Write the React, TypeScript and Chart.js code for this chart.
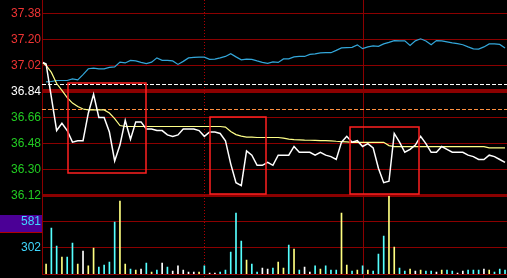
import React, { useEffect, useRef } from 'react';
import { Chart, registerables } from 'chart.js';

Chart.register(...registerables);

// ---------- axis values ----------
const priceTicks = [36.12, 36.3, 36.48, 36.66, 36.84, 37.02, 37.2, 37.38];
const previousClose = 36.84;
const priceFloor = 36.12;
const priceCeiling = 37.472;
const volumeFloor = 23;
const volumeCeiling = 860;
const volumeTicks = [302, 581];
const markedVolumeTick = 581;
const slotMin = -0.777;
const slotMax = 87.375;

// ---------- call auction point ----------
const auctionSlot = -0.6;
const auctionPrice = 37.04;
const auctionAverage = 37.036;

// ---------- series (one value per time slot 0..87) ----------
const prices = [
  37.03, 36.8, 36.57, 36.62, 36.57, 36.49, 36.5, 36.5, 36.69, 36.82,
  36.66, 36.66, 36.56, 36.36, 36.47, 36.64, 36.51, 36.63, 36.63, 36.58,
  36.58, 36.57, 36.57, 36.54, 36.53, 36.54, 36.58, 36.58, 36.58, 36.57,
  36.53, 36.56, 36.56, 36.55, 36.5, 36.34, 36.21, 36.19, 36.43, 36.4,
  36.33, 36.33, 36.35, 36.33, 36.4, 36.4, 36.4, 36.46, 36.42, 36.42,
  36.42, 36.4, 36.42, 36.4, 36.39, 36.37, 36.49, 36.53, 36.49, 36.5,
  36.46, 36.48, 36.45, 36.31, 36.21, 36.22, 36.55, 36.49, 36.42, 36.44,
  36.47, 36.53, 36.48, 36.42, 36.42, 36.46, 36.44, 36.42, 36.42, 36.42,
  36.4, 36.39, 36.37, 36.37, 36.4, 36.39, 36.37, 36.35,
];

const averagePrices = [
  37.02, 36.972, 36.895, 36.847, 36.798, 36.76, 36.736, 36.719, 36.713, 36.713,
  36.713, 36.713, 36.691, 36.653, 36.605, 36.598, 36.598, 36.598, 36.598, 36.598,
  36.598, 36.598, 36.598, 36.598, 36.598, 36.598, 36.598, 36.598, 36.598, 36.598,
  36.598, 36.598, 36.598, 36.598, 36.594, 36.563, 36.542, 36.532, 36.525, 36.524,
  36.522, 36.522, 36.522, 36.522, 36.522, 36.518, 36.511, 36.508, 36.506, 36.504,
  36.503, 36.502, 36.501, 36.501, 36.499, 36.496, 36.494, 36.492, 36.489, 36.489,
  36.489, 36.489, 36.489, 36.489, 36.489, 36.466, 36.459, 36.459, 36.459, 36.459,
  36.459, 36.459, 36.459, 36.459, 36.459, 36.459, 36.459, 36.459, 36.459, 36.459,
  36.459, 36.459, 36.459, 36.459, 36.45, 36.45, 36.45, 36.45,
];

const indexLine = [
  36.906, 36.909, 36.916, 36.916, 36.916, 36.927, 36.92, 36.956, 36.997, 37.001,
  36.996, 36.996, 37.006, 37.01, 37.043, 37.037, 37.055, 37.051, 37.041, 37.032,
  37.043, 37.072, 37.055, 37.055, 37.051, 37.027, 37.048, 37.072, 37.075, 37.077,
  37.077, 37.062, 37.064, 37.072, 37.082, 37.101, 37.079, 37.059, 37.064, 37.062,
  37.051, 37.041, 37.034, 37.044, 37.041, 37.065, 37.065, 37.079, 37.082, 37.082,
  37.096, 37.1, 37.107, 37.108, 37.108, 37.124, 37.141, 37.143, 37.145, 37.162,
  37.136, 37.148, 37.155, 37.152, 37.169, 37.179, 37.191, 37.189, 37.19, 37.158,
  37.19, 37.204, 37.189, 37.163, 37.192, 37.19, 37.183, 37.176, 37.17, 37.163,
  37.148, 37.134, 37.133, 37.148, 37.169, 37.169, 37.165, 37.141,
];

const volumes = [
  130, 515, 322, 205, 205, 354, 130, 269, 109, 301,
  98, 119, 151, 579, 803, 130, 76, 66, 76, 141,
  44, 66, 141, 98, 55, 109, 66, 44, 44, 44,
  109, 34, 34, 44, 66, 258, 675, 376, 173, 130,
  44, 87, 76, 87, 151, 87, 333, 290, 66, 98,
  44, 109, 76, 109, 66, 66, 675, 119, 55, 66,
  109, 66, 55, 237, 429, 857, 312, 87, 55, 76,
  55, 66, 55, 55, 44, 66, 66, 55, 34, 55,
  66, 66, 66, 76, 66, 44, 76, 66,
];

// u = up tick, d = down tick, f = unchanged
const volumeDirection = [
  'u', 'd', 'd', 'u', 'd', 'd', 'u', 'f', 'u', 'u',
  'd', 'd', 'd', 'd', 'u', 'u', 'd', 'u', 'f', 'd',
  'u', 'd', 'f', 'd', 'f', 'f', 'f', 'f', 'f', 'u',
  'd', 'f', 'f', 'd', 'd', 'd', 'd', 'd', 'u', 'd',
  'd', 'f', 'f', 'd', 'u', 'u', 'd', 'u', 'd', 'f',
  'f', 'd', 'u', 'd', 'd', 'd', 'u', 'u', 'd', 'u',
  'd', 'u', 'd', 'd', 'd', 'u', 'u', 'd', 'd', 'u',
  'f', 'u', 'd', 'd', 'f', 'u', 'd', 'd', 'f', 'f',
  'd', 'd', 'd', 'f', 'u', 'd', 'd', 'd',
];

// ---------- annotations ----------
const referencePrices = [36.89, 36.717];
const sessionMarks = [30, 60];
const boxStart = [4.2, 31.1, 57.7];
const boxEnd = [18.9, 41.7, 70.7];
const boxHigh = [36.897, 36.662, 36.593];
const boxLow = [36.275, 36.13, 36.13];

// ---------- styles ----------
const GRID = '#8b0000';
const RED_TXT = '#f03434';
const GREEN_TXT = '#22cc22';
const CYAN_TXT = '#40d8ff';
const FONT = { family: '"Liberation Sans", Arial, sans-serif', size: 12 };
const DIR_COLOR: Record<string, string> = { u: '#ffff80', d: '#55ffff', f: '#ffffff' };
const REF_COLORS = ['#ffffff', '#ff9040'];

const overlayPlugin = {
  id: 'overlay',
  beforeDraw(chart: any) {
    const { ctx, width, height } = chart;
    ctx.save();
    ctx.fillStyle = '#000000';
    ctx.fillRect(0, 0, width, height);
    const yv = chart.scales.yv;
    const py = Math.round(yv.getPixelForValue(markedVolumeTick));
    ctx.fillStyle = '#4b0096';
    ctx.fillRect(0, py - 7, Math.round(yv.right), 17);
    ctx.fillStyle = '#b00000';
    ctx.fillRect(0, py + 10, Math.round(yv.right), 1);
    ctx.restore();
  },
  beforeDatasetsDraw(chart: any) {
    const { ctx, chartArea: a, scales } = chart;
    const x = scales.x;
    const y = scales.y;
    ctx.save();
    ctx.fillStyle = GRID;
    ctx.fillRect(a.left, Math.round(a.bottom), a.right - a.left, 1);
    sessionMarks.forEach((m, i) => {
      const px = Math.round(x.getPixelForValue(m)) + 0.5;
      ctx.beginPath();
      ctx.lineWidth = 1;
      ctx.strokeStyle = i === 0 ? '#b00000' : GRID;
      ctx.setLineDash(i === 0 ? [1, 2] : []);
      ctx.moveTo(px, a.top);
      ctx.lineTo(px, chart.height);
      ctx.stroke();
    });
    referencePrices.forEach((v, i) => {
      const py = Math.round(y.getPixelForValue(v)) + 0.5;
      ctx.beginPath();
      ctx.lineWidth = 1;
      ctx.strokeStyle = REF_COLORS[i];
      ctx.setLineDash([4, 2]);
      ctx.moveTo(a.left, py);
      ctx.lineTo(a.right, py);
      ctx.stroke();
    });
    ctx.restore();
  },
  afterDatasetsDraw(chart: any) {
    const { ctx, scales } = chart;
    const x = scales.x;
    const y = scales.y;
    ctx.save();
    ctx.strokeStyle = '#ff2020';
    ctx.lineWidth = 1.5;
    boxStart.forEach((s, i) => {
      const x0 = Math.round(x.getPixelForValue(s));
      const x1 = Math.round(x.getPixelForValue(boxEnd[i]));
      const y0 = Math.round(y.getPixelForValue(boxHigh[i]));
      const y1 = Math.round(y.getPixelForValue(boxLow[i]));
      ctx.strokeRect(x0, y0, x1 - x0, y1 - y0);
    });
    ctx.restore();
  },
};

export default function App() {
  const ref = useRef<HTMLCanvasElement | null>(null);

  useEffect(() => {
    const canvas = ref.current;
    if (!canvas) return;
    const slots = prices.map((_, i) => i);
    const priceData = [{ x: auctionSlot, y: auctionPrice }, ...slots.map((i) => ({ x: i, y: prices[i] }))];
    const avgData = [{ x: auctionSlot, y: auctionAverage }, ...slots.map((i) => ({ x: i, y: averagePrices[i] }))];
    const indexData = slots.map((i) => ({ x: i, y: indexLine[i] }));
    const volData = slots.map((i) => ({ x: i, y: volumes[i] }));

    const chart = new Chart(canvas, {
      type: 'line',
      data: {
        datasets: [
          {
            data: priceData,
            borderColor: '#ffffff',
            borderWidth: 1.5,
            pointRadius: 0,
            tension: 0,
            yAxisID: 'y',
            xAxisID: 'x',
          },
          {
            data: avgData,
            borderColor: '#ffff88',
            borderWidth: 1.2,
            pointRadius: 0,
            tension: 0,
            yAxisID: 'y',
            xAxisID: 'x',
          },
          {
            data: indexData,
            borderColor: '#33a6d9',
            borderWidth: 1.2,
            pointRadius: 0,
            tension: 0,
            yAxisID: 'y',
            xAxisID: 'x',
          },
          {
            type: 'bar',
            data: volData,
            backgroundColor: volumeDirection.map((d) => DIR_COLOR[d]),
            borderWidth: 0,
            barThickness: 1,
            yAxisID: 'yv',
            xAxisID: 'x',
          } as any,
        ],
      },
      options: {
        responsive: false,
        animation: false,
        devicePixelRatio: 1,
        events: [],
        layout: { padding: { left: 0, right: 0, top: 0, bottom: 4 } },
        plugins: { legend: { display: false }, tooltip: { enabled: false } },
        scales: {
          x: { type: 'linear', min: slotMin, max: slotMax, offset: false, display: false },
          yv: {
            type: 'linear',
            position: 'left',
            stack: 'main',
            stackWeight: 78.3,
            weight: 0,
            min: volumeFloor,
            max: volumeCeiling,
            afterBuildTicks: (s: any) => {
              s.ticks = volumeTicks.map((v) => ({ value: v }));
            },
            afterFit: (s: any) => {
              s.width = 42;
              s.paddingTop = 0;
              s.paddingBottom = 0;
            },
            ticks: {
              autoSkip: false,
              padding: 1,
              color: CYAN_TXT,
              font: FONT,
              callback: (v: any) => String(v),
            },
            grid: { color: GRID, lineWidth: 1, drawTicks: false },
            border: { display: true, color: GRID, width: 1 },
          },
          y: {
            type: 'linear',
            position: 'left',
            stack: 'main',
            stackWeight: 195.7,
            weight: 1,
            min: priceFloor,
            max: priceCeiling,
            afterBuildTicks: (s: any) => {
              s.ticks = priceTicks.map((v) => ({ value: v }));
            },
            afterFit: (s: any) => {
              s.width = 42;
              s.paddingTop = 0;
              s.paddingBottom = 0;
            },
            ticks: {
              autoSkip: false,
              padding: 1,
              font: FONT,
              color: (c: any) => {
                const v = c.tick ? c.tick.value : 0;
                if (Math.abs(v - previousClose) < 1e-6) return '#ffffff';
                return v > previousClose ? RED_TXT : GREEN_TXT;
              },
              callback: (v: any) => Number(v).toFixed(2),
            },
            grid: {
              color: GRID,
              drawTicks: false,
              lineWidth: (c: any) => {
                const v = c.tick ? c.tick.value : 0;
                if (Math.abs(v - previousClose) < 1e-6) return 4;
                if (Math.abs(v - priceFloor) < 1e-6) return 3;
                return 1;
              },
            },
            border: { display: true, color: GRID, width: 1 },
          },
        },
      },
      plugins: [overlayPlugin],
    } as any);

    return () => chart.destroy();
  }, []);

  return (
    <div style={{ position: 'fixed', left: 0, top: 0, width: 507, height: 278, background: '#000' }}>
      <canvas ref={ref} width={507} height={278} style={{ display: 'block', width: 507, height: 278 }} />
    </div>
  );
}
